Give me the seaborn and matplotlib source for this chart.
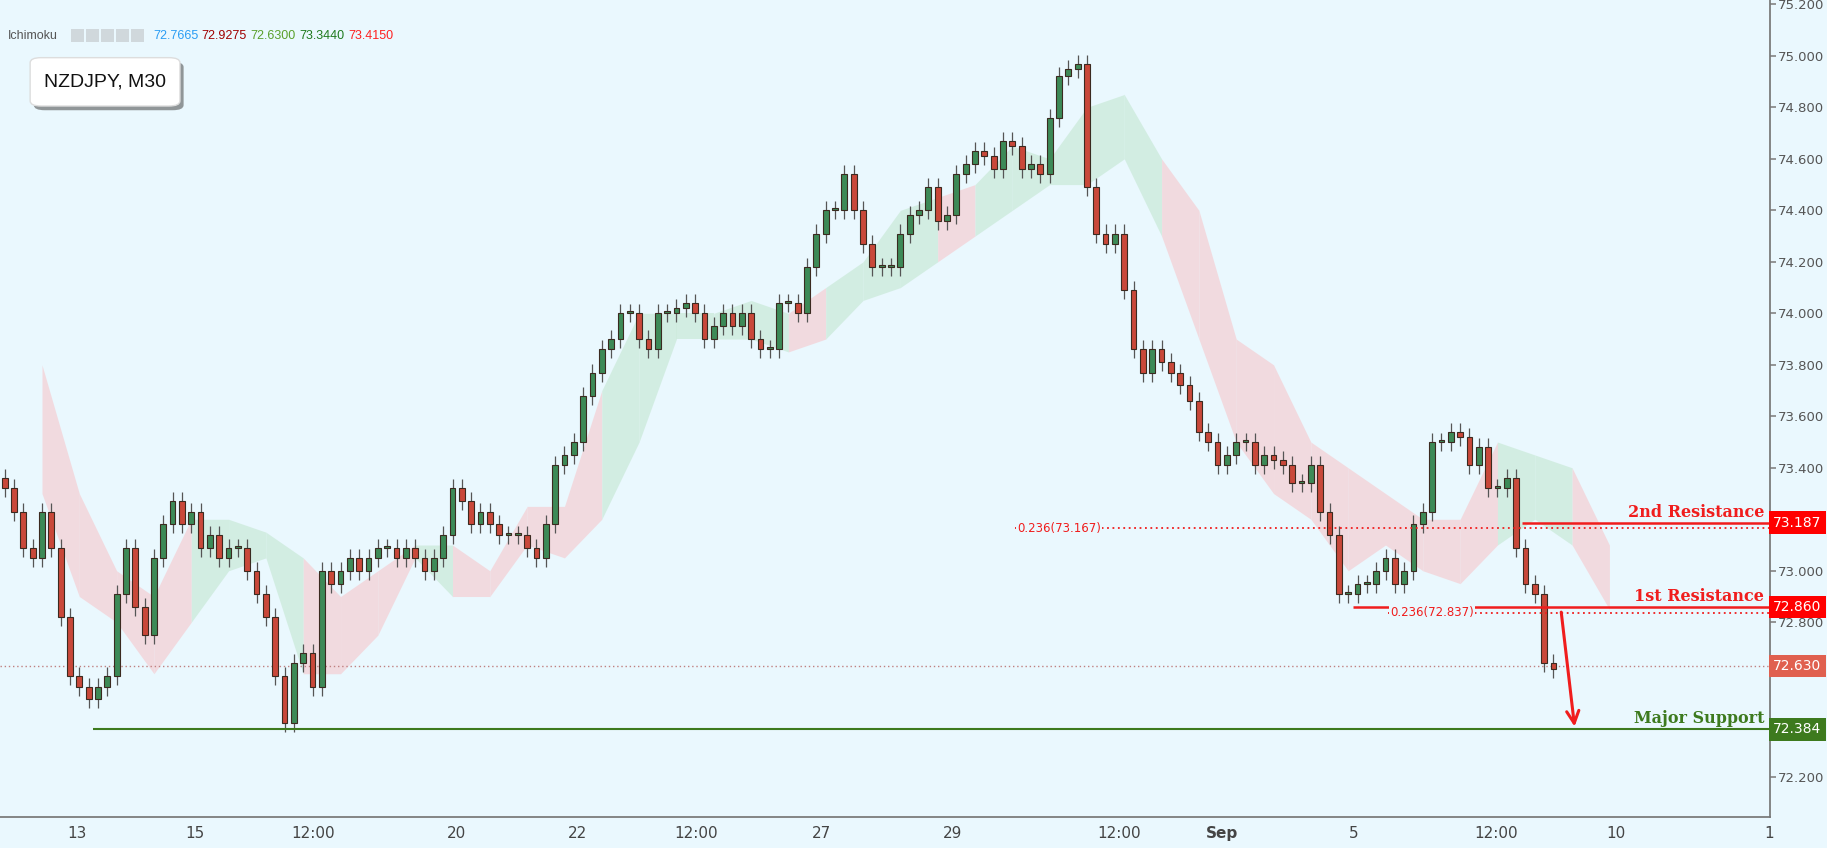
import matplotlib
matplotlib.use("Agg")
import matplotlib.pyplot as plt
import seaborn as sns
import numpy as np
import pandas as pd
from matplotlib.patches import FancyBboxPatch

closes = [73.32,73.23,73.09,73.05,73.23,73.09,72.82,72.59,72.55,72.50,72.55,72.59,72.91,73.09,72.86,72.75,73.05,73.18,73.27,73.18,
73.23,73.09,73.14,73.05,73.09,73.09,73.00,72.91,72.82,72.59,72.41,72.64,72.68,72.55,73.00,72.95,73.00,73.05,73.00,73.05,
73.09,73.09,73.05,73.09,73.05,73.00,73.05,73.14,73.32,73.27,73.18,73.23,73.18,73.14,73.14,73.14,73.09,73.05,73.18,73.41,
73.45,73.50,73.68,73.77,73.86,73.90,74.00,74.00,73.90,73.86,74.00,74.00,74.02,74.04,74.00,73.90,73.95,74.00,73.95,74.00,
73.90,73.86,73.86,74.04,74.04,74.00,74.18,74.31,74.40,74.40,74.54,74.40,74.27,74.18,74.18,74.18,74.31,74.38,74.40,74.49,
74.36,74.38,74.54,74.58,74.63,74.61,74.56,74.67,74.65,74.56,74.58,74.54,74.76,74.92,74.95,74.97,74.49,74.31,74.27,74.31,
74.09,73.86,73.77,73.86,73.81,73.77,73.72,73.66,73.54,73.50,73.41,73.45,73.50,73.50,73.41,73.45,73.43,73.41,73.34,73.34,
73.41,73.23,73.14,72.91,72.91,72.95,72.95,73.00,73.05,72.95,73.00,73.18,73.23,73.50,73.50,73.54,73.52,73.41,73.48,73.32,
73.32,73.36,73.09,72.95,72.91,72.64,72.62]
first_open = 73.36

cloud_top = [73.80,73.30,73.00,72.90,73.20,73.20,73.15,73.05,72.90,73.00,73.10,73.10,73.00,73.25,73.25,73.70,74.00,74.00,74.00,74.05,
74.00,74.10,74.20,74.40,74.45,74.50,74.65,74.60,74.80,74.85,74.60,74.40,73.90,73.80,73.50,73.40,73.30,73.20,73.20,73.50,73.45,73.40,73.10]
cloud_bot = [73.30,72.90,72.80,72.60,72.80,73.00,73.05,72.60,72.60,72.75,73.05,72.90,72.90,73.10,73.05,73.20,73.50,73.90,73.90,73.90,
73.85,73.90,74.05,74.10,74.20,74.30,74.40,74.50,74.50,74.60,74.30,73.90,73.50,73.30,73.20,73.00,73.10,73.00,72.95,73.10,73.20,73.10,72.85]
cloud_bull = [0,0,0,0,1,1,1,0,0,0,1,0,0,0,0,1,1,1,1,1,0,1,1,1,0,1,1,1,1,1,0,0,0,0,0,0,0,0,0,1,1,0,0]

tick_labels = ["13","15","12:00","20","22","12:00","27","29","12:00","Sep","5","12:00","10","1"]
tick_pos = [7.75,20.4,33.1,48.4,61.4,74.1,87.6,101.6,119.5,130.5,144.6,159.9,172.75,189.1]
price_ticks = [72.2,72.4,72.6,72.8,73.0,73.2,73.4,73.6,73.8,74.0,74.2,74.4,74.6,74.8,75.0,75.2]
hidden_ticks = [72.4, 72.6, 73.2]

sns.set_theme(style="white")
BG = "#eaf8fe"
fig = plt.figure(figsize=(18.27, 8.48), dpi=100, facecolor=BG)
ax = fig.add_axes([0.0, 0.037, 0.969, 0.963])
ax.set_facecolor(BG)

df = pd.DataFrame({"close": closes})
df["open"] = [first_open] + closes[:-1]
df["i"] = np.arange(len(df))
df["up"] = df["close"] >= df["open"]
wick = 0.035
df["high"] = df[["open", "close"]].max(axis=1) + wick
df["low"] = df[["open", "close"]].min(axis=1) - wick

# cloud
cdf = pd.DataFrame({"top": cloud_top, "bot": cloud_bot, "bull": cloud_bull})
cdf["x"] = 4 + 4 * np.arange(len(cdf))
for k in range(len(cdf) - 1):
    r0, r1 = cdf.iloc[k], cdf.iloc[k + 1]
    col = "#cdebdc" if r0.bull else "#f4d3d8"
    ax.fill_between([r0.x, r1.x], [r0.top, r1.top], [r0.bot, r1.bot], color=col, alpha=0.8, lw=0)

# candles
ax.vlines(df["i"], df["low"], df["high"], color="#555555", lw=0.9, zorder=3)
for _, r in df.iterrows():
    col = "#3d8a57" if r.up else "#c9483a"
    lo = min(r.open, r.close)
    h = max(abs(r.close - r.open), 0.008)
    ax.bar(r.i, h, bottom=lo, width=0.62, color=col, edgecolor="#3b2a20", lw=0.8, zorder=4)

# levels
red = "#f01d1d"
ax.axhline(72.63, color="#c08080", ls=(0, (1, 2)), lw=1, zorder=2)
ax.hlines(72.384, 9.5, 189.25, color="#3d7a1e", lw=1.5, zorder=5)
ax.hlines(73.187, 162.6, 189.25, color=red, lw=1.8, zorder=5)
ax.hlines(72.86, 144.5, 189.25, color=red, lw=1.8, zorder=5)
ax.hlines(73.167, 108.3, 189.25, color=red, ls=(0, (1, 2)), lw=1.3, zorder=5)
ax.hlines(72.837, 148.3, 189.25, color=red, ls=(0, (1, 2)), lw=1.3, zorder=5)
ax.text(108.5, 73.165, "0.236(73.167)", color=red, fontsize=8.5, va="center", ha="left",
        bbox=dict(fc=BG, ec="none", pad=1), zorder=6)
ax.text(148.5, 72.837, "0.236(72.837)", color=red, fontsize=8.5, va="center", ha="left",
        bbox=dict(fc=BG, ec="none", pad=1), zorder=6)
ax.text(188.6, 73.195, "2nd Resistance", color=red, fontsize=11.5, weight="bold", family="DejaVu Serif", ha="right", va="bottom")
ax.text(188.6, 72.868, "1st Resistance", color=red, fontsize=11.5, weight="bold", family="DejaVu Serif", ha="right", va="bottom")
ax.text(188.6, 72.392, "Major Support", color="#3d7a1e", fontsize=11.5, weight="bold", family="DejaVu Serif", ha="right", va="bottom")
ax.annotate("", xy=(168.3, 72.384), xytext=(166.8, 72.85),
            arrowprops=dict(arrowstyle="->", color=red, lw=2.2, mutation_scale=22))

# axes
ax.set_xlim(-0.5, 189.25)
ax.set_ylim(72.045, 75.217)
ax.set_xticks(tick_pos)
ax.set_xticklabels(tick_labels, fontsize=11, color="#444444")
ax.tick_params(axis="x", length=0, pad=7)
for t, lab in zip(ax.get_xticklabels(), tick_labels):
    if lab == "Sep":
        t.set_fontweight("bold")
ax.yaxis.tick_right()
ax.set_yticks(price_ticks)
ax.set_yticklabels(["" if v in hidden_ticks else f"{v:.3f}" for v in price_ticks], fontsize=9.5, color="#555555")
ax.tick_params(axis="y", length=4, color="#888888", pad=1.5, right=True)
for s in ["top", "left"]:
    ax.spines[s].set_visible(False)
ax.spines["right"].set_color("#777777")
ax.spines["bottom"].set_color("#777777")

def tag(y, txt, col):
    ax.text(189.55, y, txt, color="white", fontsize=10, va="center", ha="left", zorder=10,
            bbox=dict(boxstyle="square,pad=0.3", fc=col, ec="none"), clip_on=False)
tag(73.187, "73.187", "#ff0000")
tag(72.86, "72.860", "#ff0000")
tag(72.63, "72.630", "#e0604f")
tag(72.384, "72.384", "#3d7a1e")

# header
HF = "Liberation Sans"
fig.text(0.0045, 0.958, "Ichimoku", fontsize=9, color="#555555", va="center", family=HF)
vals = [("72.7665", "#2a9df4"), ("72.9275", "#a00000"), ("72.6300", "#5aa02c"), ("73.3440", "#1e7a1e"), ("73.4150", "#ff2020")]
xpos = [0.0837, 0.110, 0.1368, 0.1637, 0.1905]
for (v, c), xp in zip(vals, xpos):
    fig.text(xp, 0.958, v, fontsize=9, color=c, va="center", family=HF)
for k in range(5):
    fig.patches.append(FancyBboxPatch((0.0389 + k * 0.0082, 0.950), 0.0072, 0.016, boxstyle="square,pad=0",
                                      transform=fig.transFigure, fc="#d0d8dc", ec="none"))
fig.patches.append(FancyBboxPatch((0.0185, 0.870), 0.082, 0.057, boxstyle="round,pad=0,rounding_size=0.006",
                                  transform=fig.transFigure, fc="#555555", ec="none", alpha=0.6))
fig.patches.append(FancyBboxPatch((0.0165, 0.875), 0.082, 0.057, boxstyle="round,pad=0,rounding_size=0.006",
                                  transform=fig.transFigure, fc="white", ec="#dddddd"))
fig.text(0.0575, 0.903, "NZDJPY, M30", fontsize=14, color="#111111", ha="center", va="center", family=HF)

fig.savefig("out.png", dpi=100, facecolor=BG)
